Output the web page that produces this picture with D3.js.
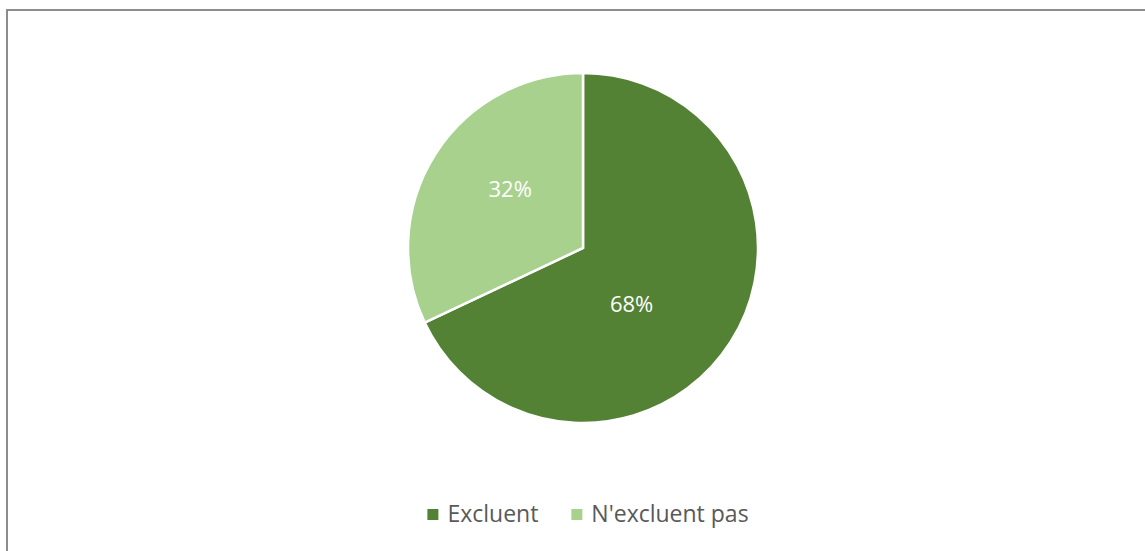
<!DOCTYPE html>
<html>
<head>
<meta charset="utf-8">
<style>
    body { margin: 0; background: #fff; }
    svg { display: block; font-family: 'Open Sans', 'Liberation Sans', sans-serif; }
</style>
</head>
<body>
<svg width="1145" height="551"></svg>
<script src="https://d3js.org/d3.v7.min.js"></script>
<script>
    // data
    let categories = ["Excluent", "N'excluent pas"]
    let values = [68, 32]
    let colors = ["#548235", "#a9d18e"]

    let width = 1145
    let height = 551
    let svg = d3.select("svg")

    // chart frame
    svg.append("rect")
        .attr("x", 7).attr("y", 10)
        .attr("width", width).attr("height", height)
        .style("fill", "white")
        .style("stroke", "#8c8c8c")
        .style("stroke-width", 2)

    let cx = 583, cy = 248, radius = 175

    let pie = d3.pie().sort(null).value(d => d)
    let arcs = pie(values)
    let arc = d3.arc().innerRadius(0).outerRadius(radius)
    let labelArc = d3.arc().innerRadius(radius * 0.53).outerRadius(radius * 0.53)

    let g = svg.append("g").attr("transform", `translate(${cx},${cy})`)

    g.selectAll(".slice")
        .data(arcs)
        .join("path")
        .attr("class", "slice")
        .attr("d", arc)
        .style("fill", (d, i) => colors[i])
        .style("stroke", "white")
        .style("stroke-width", 2.5)

    // label nudges, roughly where excel puts them
    let nudge = [[0.62, 1.12], [0.93, 1.18]]

    g.selectAll(".label")
        .data(arcs)
        .join("text")
        .attr("class", "label")
        .attr("transform", d => {
            let c = labelArc.centroid(d)
            let k = nudge[d.index]
            return `translate(${c[0] * k[0]},${c[1] * k[1]})`
        })
        .attr("text-anchor", "middle")
        .attr("dy", "0.36em")
        .style("fill", "white")
        .style("font-size", "22px")
        .text(d => d.data + "%")

    // legend
    let legend = svg.append("g").attr("transform", "translate(0,514)")
    let items = legend.selectAll(".item")
        .data(categories)
        .join("g")
        .attr("class", "item")

    items.append("rect")
        .attr("width", 11).attr("height", 11)
        .attr("y", -5)
        .style("fill", (d, i) => colors[i])

    items.append("text")
        .attr("x", 20)
        .attr("dy", "0.36em")
        .style("fill", "#595959")
        .style("font-size", "23px")
        .text(d => d)

    let widths = []
    items.each(function () { widths.push(this.getBBox().width) })
    let gap = 33
    let total = d3.sum(widths) + gap * (widths.length - 1)
    let x0 = 588 - total / 2
    items.attr("transform", (d, i) => {
        let x = x0 + d3.sum(widths.slice(0, i)) + gap * i
        return `translate(${x},0)`
    })
</script>
</body>
</html>
